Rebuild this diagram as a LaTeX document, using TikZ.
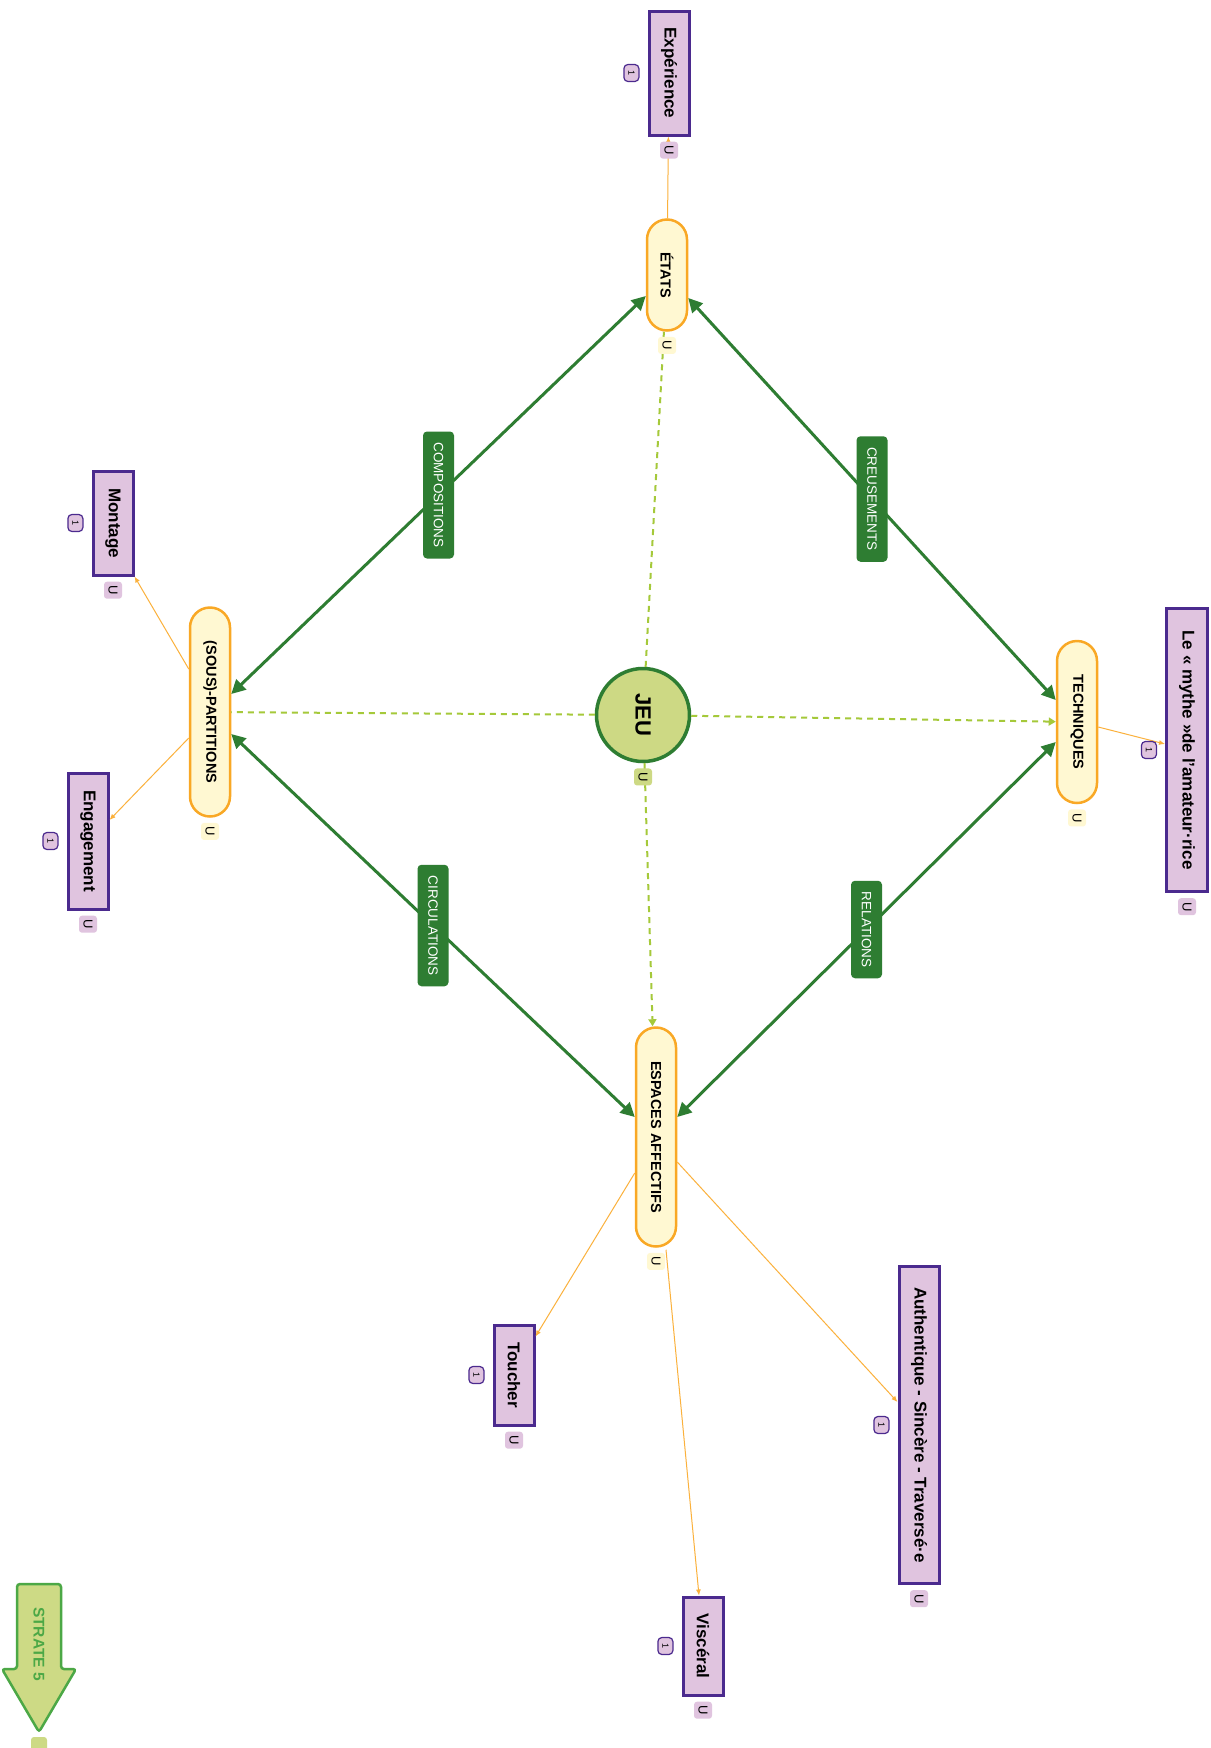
\documentclass[tikz,border=0pt]{standalone}
\usepackage{graphicx}
\usepackage{fontspec}
\setmainfont{Liberation Sans}
\usetikzlibrary{arrows.meta,calc,positioning}

\definecolor{pillfill}{HTML}{FFF8D2}
\definecolor{pillline}{HTML}{F9A825}
\definecolor{boxfill}{HTML}{E0C4DF}
\definecolor{boxline}{HTML}{4B2A8E}
\definecolor{linkgreen}{HTML}{2E7D32}
\definecolor{jeufill}{HTML}{CDD984}
\definecolor{dashgreen}{HTML}{A5C93A}
\definecolor{thinorange}{HTML}{FBB13C}
\definecolor{stratefill}{HTML}{CDDA85}
\definecolor{strateline}{HTML}{4CA846}

\newcommand{\downtext}[1]{\rotatebox{-90}{#1}}

\begin{document}
\begin{tikzpicture}[x=1pt,y=-1pt,
    pill/.style={draw=pillline,fill=pillfill,line width=2.5pt,rounded corners=20pt,
      minimum width=40pt,inner sep=0pt,font=\pillfontsize},
    idea/.style={draw=boxline,fill=boxfill,line width=3pt,minimum width=40pt,
      inner sep=0pt,font=\ideafontsize},
    hub/.style={circle,draw=linkgreen,fill=jeufill,line width=3.5pt,minimum size=93pt,
      inner sep=0pt,font=\hubfontsize},
    tag/.style={fill=#1,rounded corners=3pt,minimum width=18pt,minimum height=17pt,
      inner sep=0pt,font=\tagfontsize},
    count/.style={draw=boxline,fill=boxfill,line width=1.2pt,rounded corners=4pt,
      minimum width=15pt,minimum height=17pt,inner sep=0pt,font=\countfontsize},
    bond/.style={draw=linkgreen,line width=3pt,
      {Triangle[length=14pt,width=14pt]}-{Triangle[length=14pt,width=14pt]}},
    bondlabel/.style={fill=linkgreen,text=white,rounded corners=4pt,minimum width=31pt,
      inner xsep=2pt,inner ysep=11pt,font=\bondfontsize},
    hint/.style={draw=dashgreen,line width=2pt,dash pattern=on 6pt off 5pt},
    leaf/.style={draw=thinorange,line width=1pt,-{Latex[length=6pt,width=5pt]}},
]
    \providecommand{\pillfontsize}{\fontsize{14.5}{16}\selectfont\bfseries}
    \providecommand{\ideafontsize}{\fontsize{17}{19}\selectfont\bfseries}
    \providecommand{\hubfontsize}{\fontsize{22}{24}\selectfont\bfseries}
    \providecommand{\bondfontsize}{\fontsize{13.5}{15}\selectfont}
    \providecommand{\tagfontsize}{\fontsize{13}{14}\selectfont}
    \providecommand{\countfontsize}{\fontsize{9}{10}\selectfont}
    \providecommand{\stratefontsize}{\fontsize{15.5}{17}\selectfont\bfseries}
    \path[use as bounding box,fill=white] (0,0) rectangle (1210,1748);

    % main nodes
    \node[pill,minimum height=111pt] (etats) at (667,275) {\downtext{ÉTATS}};
    \node[pill,minimum height=209pt] (parts) at (210,712) {\downtext{(SOUS)-PARTITIONS}};
    \node[pill,minimum height=162pt] (techs) at (1077,722) {\downtext{TECHNIQUES}};
    \node[pill,minimum height=219pt] (espaces) at (656,1137) {\downtext{ESPACES AFFECTIFS}};
    \node[hub] (jeu) at (643,715) {\downtext{JEU}};

    % ideas
    \node[idea,minimum height=124pt] (experience) at (669,73) {\downtext{Expérience}};
    \node[idea,minimum height=104pt] (montage) at (113,523) {\downtext{Montage}};
    \node[idea,minimum height=136pt] (engagement) at (88,841) {\downtext{Engagement}};
    \node[idea,minimum height=283pt,minimum width=41pt] (mythe) at (1187,750) {\downtext{Le « mythe »de l’amateur·rice}};
    \node[idea,minimum height=100pt] (toucher) at (514,1375) {\downtext{Toucher}};
    \node[idea,minimum height=317pt] (authentique) at (919,1425) {\downtext{Authentique - Sincère - Traversé·e}};
    \node[idea,minimum height=98pt] (visceral) at (703,1646) {\downtext{Viscéral}};

    % green links
    \draw[bond] ($(parts.east)+(0,-18)$) -- node[bondlabel] (compositions) {\downtext{COMPOSITIONS}} ($(etats.west)+(0,21)$);
    \draw[bond] ($(etats.east)+(0,23)$) -- node[bondlabel] (creusements) {\downtext{CREUSEMENTS}} ($(techs.west)+(0,-22)$);
    \draw[bond] ($(parts.east)+(0,22)$) -- node[bondlabel] (circulations) {\downtext{CIRCULATIONS}} ($(espaces.west)+(0,-20)$);
    \draw[bond] ($(techs.west)+(0,20)$) -- node[bondlabel] (relations) {\downtext{RELATIONS}} ($(espaces.east)+(0,-20)$);

    % dashed links from JEU
    \draw[hint] (jeu) -- (etats);
    \draw[hint] (jeu) -- (parts);
    \draw[hint,-{Triangle[length=7pt,width=8pt]}] (jeu) -- (techs);
    \draw[hint,-{Triangle[length=7pt,width=8pt]}] (jeu) -- (espaces);

    % thin links to ideas
    \draw[leaf] (etats) -- (experience);
    \draw[leaf] ($(parts.west)+(0,-43)$) -- (montage.south east);
    \draw[leaf] ($(parts.west)+(0,26)$) -- ($(engagement.east)+(0,-21)$);
    \draw[leaf] ($(techs.east)+(0,5)$) -- ($(mythe.west)+(0,-6)$);
    \draw[leaf] ($(espaces.west)+(0,36)$) -- ($(toucher.north east)+(0,13)$);
    \draw[leaf] ($(espaces.east)+(0,25)$) -- ($(authentique.west)+(0,-23)$);
    \draw[leaf] ($(espaces.south)+(10,2)$) -- ($(visceral.north)+(-4,0)$);

    % badges
    \foreach \n in {etats,parts,techs,espaces}
      \node[tag=pillfill,below=5pt of \n] (\n-tag) {\downtext{U}};
    \node[tag=jeufill,below=5pt of jeu] (jeu-tag) {\downtext{U}};
    \foreach \n in {experience,montage,engagement,mythe,toucher,authentique,visceral} {
      \node[tag=boxfill,below=5pt of \n] (\n-tag) {\downtext{U}};
      \node[count,left=8pt of \n] (\n-count) {\downtext{1}};
    }

    % strate arrow
    \draw[draw=strateline,fill=stratefill,line width=2.5pt,rounded corners=3pt]
      (17,1584) -- (61,1584) -- (61,1669) -- (76,1669) -- (39,1732) -- (2,1669) -- (17,1669) -- cycle;
    \node[font=\stratefontsize,text=strateline] (strate) at (39,1644) {\downtext{STRATE 5}};
    \node[tag=stratefill,minimum width=16pt,minimum height=14pt] (strate-tag) at (39,1744) {};
\end{tikzpicture}
\end{document}
